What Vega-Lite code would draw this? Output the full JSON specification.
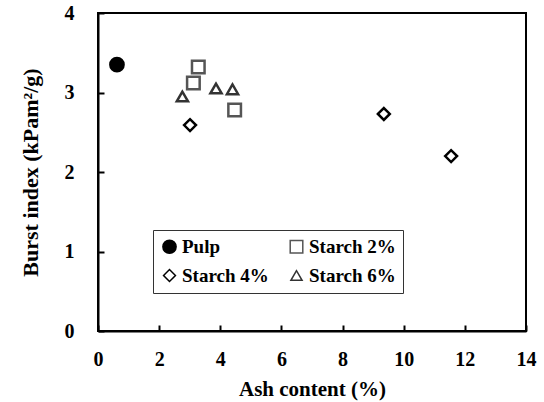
{
  "$schema": "https://vega.github.io/schema/vega-lite/v6.json",
  "width": 428,
  "height": 318,
  "autosize": {"type": "none"},
  "padding": {"left": 98, "top": 13, "right": 18, "bottom": 71},
  "background": "white",
  "config": {
    "view": {"stroke": "black", "strokeWidth": 2},
    "font": "Liberation Serif",
    "axis": {
      "grid": false,
      "domainColor": "black",
      "domainWidth": 2,
      "tickColor": "black",
      "tickWidth": 2,
      "tickSize": -6,
      "labelFlush": false,
      "labelFont": "Liberation Serif",
      "labelFontWeight": "bold",
      "labelFontSize": 20,
      "labelColor": "black",
      "titleFont": "Liberation Serif",
      "titleFontWeight": "bold",
      "titleFontSize": 21,
      "titleColor": "black"
    }
  },
  "data": {
    "values": [
      {"ash": 0.62, "burst": 3.35, "group": "Pulp"},
      {"ash": 3.12, "burst": 3.12, "group": "Starch 2%"},
      {"ash": 3.28, "burst": 3.32, "group": "Starch 2%"},
      {"ash": 4.47, "burst": 2.78, "group": "Starch 2%"},
      {"ash": 3.01, "burst": 2.59, "group": "Starch 4%"},
      {"ash": 9.35, "burst": 2.73, "group": "Starch 4%"},
      {"ash": 11.55, "burst": 2.2, "group": "Starch 4%"},
      {"ash": 2.76, "burst": 2.95, "group": "Starch 6%"},
      {"ash": 3.86, "burst": 3.05, "group": "Starch 6%"},
      {"ash": 4.4, "burst": 3.04, "group": "Starch 6%"}
    ]
  },
  "mark": {"type": "point", "strokeWidth": 2.5, "opacity": 1},
  "encoding": {
    "x": {
      "field": "ash", "type": "quantitative",
      "scale": {"domain": [0, 14], "nice": false},
      "axis": {"values": [0, 2, 4, 6, 8, 10, 12, 14], "labelPadding": 24, "title": "Ash content (%)", "titlePadding": 9}
    },
    "y": {
      "field": "burst", "type": "quantitative",
      "scale": {"domain": [0, 4], "nice": false},
      "axis": {"values": [0, 1, 2, 3, 4], "labelPadding": 30, "title": "Burst index (kPam²/g)", "titleFontSize": 22, "titlePadding": 22}
    },
    "size": {
      "field": "group", "type": "nominal",
      "scale": {"domain": ["Pulp", "Starch 2%", "Starch 4%", "Starch 6%"], "range": [175, 125, 290, 220]}
    },
    "shape": {
      "field": "group", "type": "nominal",
      "scale": {"domain": ["Pulp", "Starch 2%", "Starch 4%", "Starch 6%"], "range": ["circle", "square", "diamond", "triangle-up"]},
      "legend": {
        "title": null,
        "orient": "none",
        "legendX": 55,
        "legendY": 217,
        "direction": "horizontal",
        "columns": 2,
        "columnPadding": 18,
        "rowPadding": 9,
        "padding": 7,
        "strokeColor": "#333333",
        "fillColor": "white",
        "labelFont": "Liberation Serif",
        "labelFontWeight": "bold",
        "labelFontSize": 19,
        "labelColor": "black",
        "symbolStrokeWidth": 1.5,
        "labelOffset": 3,
        "labelLimit": 200
      }
    },
    "stroke": {
      "field": "group", "type": "nominal",
      "scale": {"domain": ["Pulp", "Starch 2%", "Starch 4%", "Starch 6%"], "range": ["black", "#555555", "black", "#333333"]}
    },
    "fill": {
      "field": "group", "type": "nominal",
      "scale": {"domain": ["Pulp", "Starch 2%", "Starch 4%", "Starch 6%"], "range": ["black", "white", "white", "white"]}
    }
  }
}
